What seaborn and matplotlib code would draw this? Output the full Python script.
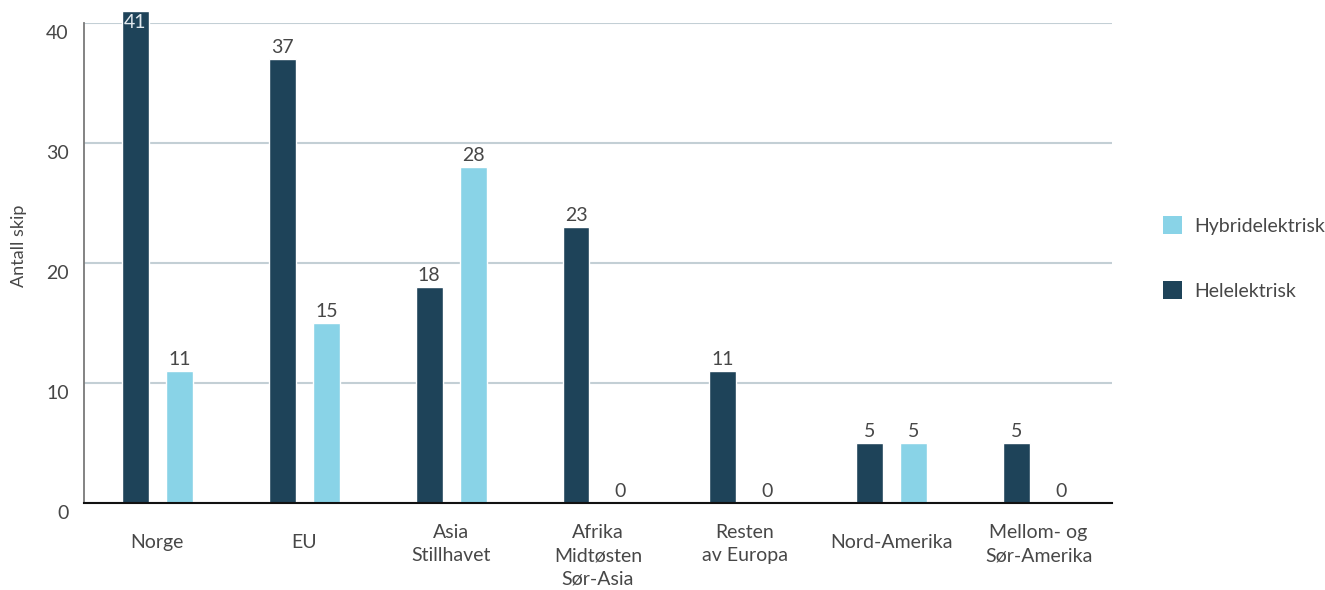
import matplotlib
matplotlib.use("Agg")
import matplotlib.pyplot as plt
import matplotlib.transforms as mtransforms
from matplotlib.patches import Patch
import pandas as pd
import seaborn as sns

regions = ["Norge", "EU", "Asia\nStillhavet", "Afrika\nMidtøsten\nSør-Asia",
           "Resten\nav Europa", "Nord-Amerika", "Mellom- og\nSør-Amerika"]
helelektrisk = [41, 37, 18, 23, 11, 5, 5]
hybridelektrisk = [11, 15, 28, 0, 0, 5, 0]
series = ["Helelektrisk", "Hybridelektrisk"]
y_ticks = [0, 10, 20, 30, 40]

DARK = "#1e4359"
LIGHT = "#89d3e7"
TEXT = "#474747"
FS = 14

df = pd.DataFrame({
    "region": regions * 2,
    "type": ["Helelektrisk"] * len(regions) + ["Hybridelektrisk"] * len(regions),
    "antall": helelektrisk + hybridelektrisk,
})

sns.set_theme(style="white")
plt.rcParams["font.family"] = ["Lato", "DejaVu Sans"]
plt.rcParams["font.weight"] = "normal"

fig = plt.figure(figsize=(13.25, 5.9), dpi=100)
ax = fig.add_axes([84 / 1325, 1 - 503 / 590, (1112 - 84) / 1325, (503 - 23) / 590])

sns.barplot(data=df, x="region", y="antall", hue="type", hue_order=series,
            order=regions, palette={"Helelektrisk": DARK, "Hybridelektrisk": LIGHT},
            width=0.6, gap=0.39, saturation=1, legend=False, ax=ax, zorder=3)

ax.set_ylim(0, 40)
ax.set_xlim(-0.5, len(regions) - 0.5)
ax.set_yticks(y_ticks)
ax.yaxis.grid(True, color="#c3cfd5", linewidth=1.5, zorder=0)
ax.xaxis.grid(False)

for spine in ("top", "right"):
    ax.spines[spine].set_visible(False)
ax.spines["left"].set_color("#7a7a7a")
ax.spines["left"].set_linewidth(1.3)
ax.spines["bottom"].set_color("#111111")
ax.spines["bottom"].set_linewidth(1.5)
ax.spines["bottom"].set_zorder(4)

ax.tick_params(axis="both", length=0, labelsize=FS, labelcolor=TEXT)
ax.tick_params(axis="y", pad=11)
ax.tick_params(axis="x", pad=15)
ax.set_xlabel("")
ax.set_ylabel("Antall skip", fontsize=13, color=TEXT)
ax.yaxis.set_label_coords(-0.055, 0.535)

ydown = mtransforms.ScaledTranslation(0, -9 / 100, fig.dpi_scale_trans)
for lbl in ax.get_yticklabels():
    lbl.set_transform(lbl.get_transform() + ydown)

# single-line category names sit centred in the two-line label band
xdown = mtransforms.ScaledTranslation(0, -10 / 100, fig.dpi_scale_trans)
for lbl in ax.get_xticklabels():
    lbl.set_linespacing(1.45)
    lbl.set_verticalalignment("top")
    if "\n" not in lbl.get_text():
        lbl.set_transform(lbl.get_transform() + xdown)

ymax = ax.get_ylim()[1]
for container in ax.containers:
    for bar in container:
        bar.set_clip_on(False)
        h = bar.get_height()
        x = bar.get_x() + bar.get_width() / 2
        if h > ymax:
            ax.text(x, h - 0.25, f"{h:.0f}", ha="center", va="top",
                    fontsize=FS, color="#e2e9ee", zorder=5, clip_on=False)
        else:
            ax.annotate(f"{h:.0f}", (x, h), xytext=(0, 2.5), textcoords="offset points",
                        ha="center", va="bottom", fontsize=FS, color=TEXT, zorder=5)

handles = [Patch(facecolor=LIGHT, edgecolor="none", label="Hybridelektrisk"),
           Patch(facecolor=DARK, edgecolor="none", label="Helelektrisk")]
fig.legend(handles=handles, loc="center left", bbox_to_anchor=(1163 / 1325, 1 - 258 / 590),
           frameon=False, fontsize=FS, labelcolor=TEXT, handlelength=1.0,
           handleheight=1.0, handletextpad=0.6, labelspacing=2.4,
           borderpad=0, borderaxespad=0)

fig.savefig("out.png", dpi=100, facecolor="white")
